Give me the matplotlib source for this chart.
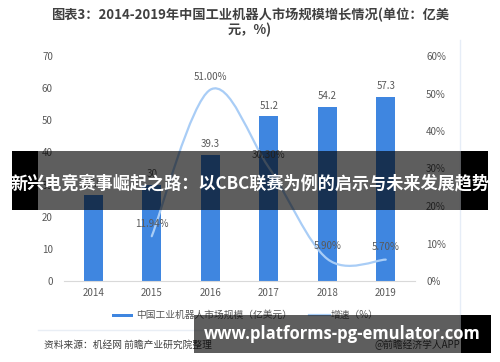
import matplotlib
matplotlib.use("Agg")
import matplotlib.pyplot as plt
from matplotlib.patches import Rectangle
from matplotlib.lines import Line2D
from matplotlib.path import Path
from matplotlib.patches import PathPatch

plt.rcParams['font.family'] = ['Noto Sans CJK SC', 'DejaVu Sans']

years = ['2014', '2015', '2016', '2017', '2018', '2019']
market = [26.8, 30.0, 39.3, 51.2, 54.2, 57.3]
market_labels = ['26.8', '30', '39.3', '51.2', '54.2', '57.3']
growth_years_idx = [1, 2, 3, 4, 5]
growth = [11.94, 51.00, 30.30, 5.90, 5.70]
growth_labels = ['11.94%', '51.00%', '30.30%', '5.90%', '5.70%']
left_ticks = [0, 10, 20, 30, 40, 50, 60, 70]
right_ticks = [0, 10, 20, 30, 40, 50, 60]

W, H = 500, 362
fig = plt.figure(figsize=(W / 100, H / 100), dpi=100)
fig.patch.set_facecolor('white')

def fx(px):
    return px / W

def fy(py):
    return 1 - py / H

ax = fig.add_axes([fx(64), fy(281), fx(415) - fx(64), fy(56) - fy(281)])
ax2 = ax.twinx()

bar_color = '#3f86e0'
line_color = '#a9cdf6'
txt_gray = '#595959'

x = list(range(len(years)))
ax.bar(x, market, width=0.32, color=bar_color, zorder=2)
for xi, v, lab in zip(x, market, market_labels):
    ax.annotate(lab, (xi, v), xytext=(0, 4), textcoords='offset points',
                ha='center', va='bottom', fontsize=7, color=txt_gray)

ax.set_xlim(-0.5, 5.5)
ax.set_ylim(0, 70)
ax.set_yticks(left_ticks)
ax.set_xticks(x)
ax.set_xticklabels(years)
ax.tick_params(axis='both', length=0, labelsize=7, colors=txt_gray)
ax.tick_params(axis='y', pad=8)
ax.tick_params(axis='x', pad=5)
for s in ['top', 'right', 'left']:
    ax.spines[s].set_visible(False)
ax.spines['bottom'].set_color('#d9d9d9')
ax.set_facecolor('none')

ax2.set_ylim(0, 60)
ax2.set_yticks(right_ticks)
ax2.set_yticklabels([f'{t}%' for t in right_ticks])
ax2.tick_params(axis='y', length=0, labelsize=7, colors=txt_gray, pad=8)
for s in ['top', 'right', 'left', 'bottom']:
    ax2.spines[s].set_visible(False)

# smooth line through growth points (Catmull-Rom -> cubic Bezier)
pts = list(zip(growth_years_idx, growth))
verts = [pts[0]]
codes = [Path.MOVETO]
n = len(pts)
for i in range(n - 1):
    p0 = pts[i - 1] if i > 0 else pts[i]
    p1 = pts[i]
    p2 = pts[i + 1]
    p3 = pts[i + 2] if i + 2 < n else pts[i + 1]
    c1 = (p1[0] + (p2[0] - p0[0]) / 6, p1[1] + (p2[1] - p0[1]) / 6)
    c2 = (p2[0] - (p3[0] - p1[0]) / 6, p2[1] - (p3[1] - p1[1]) / 6)
    verts += [c1, c2, p2]
    codes += [Path.CURVE4] * 3
ax2.add_patch(PathPatch(Path(verts, codes), facecolor='none', edgecolor=line_color,
                        lw=1.6, zorder=3, capstyle='round'))
for xi, v, lab in zip(growth_years_idx, growth, growth_labels):
    ax2.annotate(lab, (xi, v), xytext=(0, 5.5), textcoords='offset points',
                 ha='center', va='bottom', fontsize=7, color=txt_gray)

# title
fig.text(0.5, fy(15), '图表3：2014-2019年中国工业机器人市场规模增长情况(单位：亿美',
         ha='center', va='center', fontsize=9.5, fontweight='bold', color='#404040')
fig.text(0.5, fy(30), '元，%)', ha='center', va='center', fontsize=9.5,
         fontweight='bold', color='#404040')

# right border line
fig.add_artist(Line2D([fx(460), fx(460)], [fy(40), fy(330)], color='#e6edf7', lw=1))

# legend
fig.add_artist(Rectangle((fx(112), fy(317)), fx(21), 3.5 / H, color=bar_color, lw=0))
fig.text(fx(136), fy(315), '中国工业机器人市场规模（亿美元）', ha='left', va='center',
         fontsize=7, color=txt_gray)
fig.add_artist(Line2D([fx(309), fx(330)], [fy(315), fy(315)], color=line_color, lw=1.6))
fig.text(fx(331), fy(315), '增速（%）', ha='left', va='center', fontsize=7, color=txt_gray)

# separator and source
fig.add_artist(Line2D([fx(38), fx(460)], [fy(330), fy(330)], color='#e9eef5', lw=1))
fig.text(fx(44), fy(345), '资料来源：机经网 前瞻产业研究院整理', ha='left', va='center',
         fontsize=7, color='#404040')
fig.text(fx(460), fy(345), '@前瞻经济学人APP', ha='right', va='center',
         fontsize=7, color='#404040')

# overlay banner 1
fig.add_artist(Rectangle((fx(12), fy(210)), fx(476), fy(151) - fy(210),
                         color='black', alpha=0.63, lw=0, zorder=20))
fig.add_artist(Rectangle((fx(12), fy(210)), fx(26), fy(151) - fy(210),
                         color='black', lw=0, zorder=21))
fig.add_artist(Rectangle((fx(461), fy(210)), fx(27), fy(151) - fy(210),
                         color='black', lw=0, zorder=21))
fig.text(0.5, fy(183), '新兴电竞赛事崛起之路：以CBC联赛为例的启示与未来发展趋势',
         ha='center', va='center', fontsize=12.3, fontweight='bold', color='white',
         zorder=22)

# overlay banner 2
fig.add_artist(Rectangle((fx(194), fy(353)), fx(297), fy(315) - fy(353),
                         color='black', alpha=0.63, lw=0, zorder=20))
fig.add_artist(Rectangle((fx(461), fy(353)), fx(30), fy(315) - fy(353),
                         color='black', lw=0, zorder=21))
fig.text(fx(342), fy(334), 'www.platforms-pg-emulator.com', ha='center', va='center',
         fontsize=12, fontweight='bold', color='white', family=['Open Sans', 'DejaVu Sans'],
         zorder=22)

fig.savefig('out.png', dpi=100, facecolor='white')
